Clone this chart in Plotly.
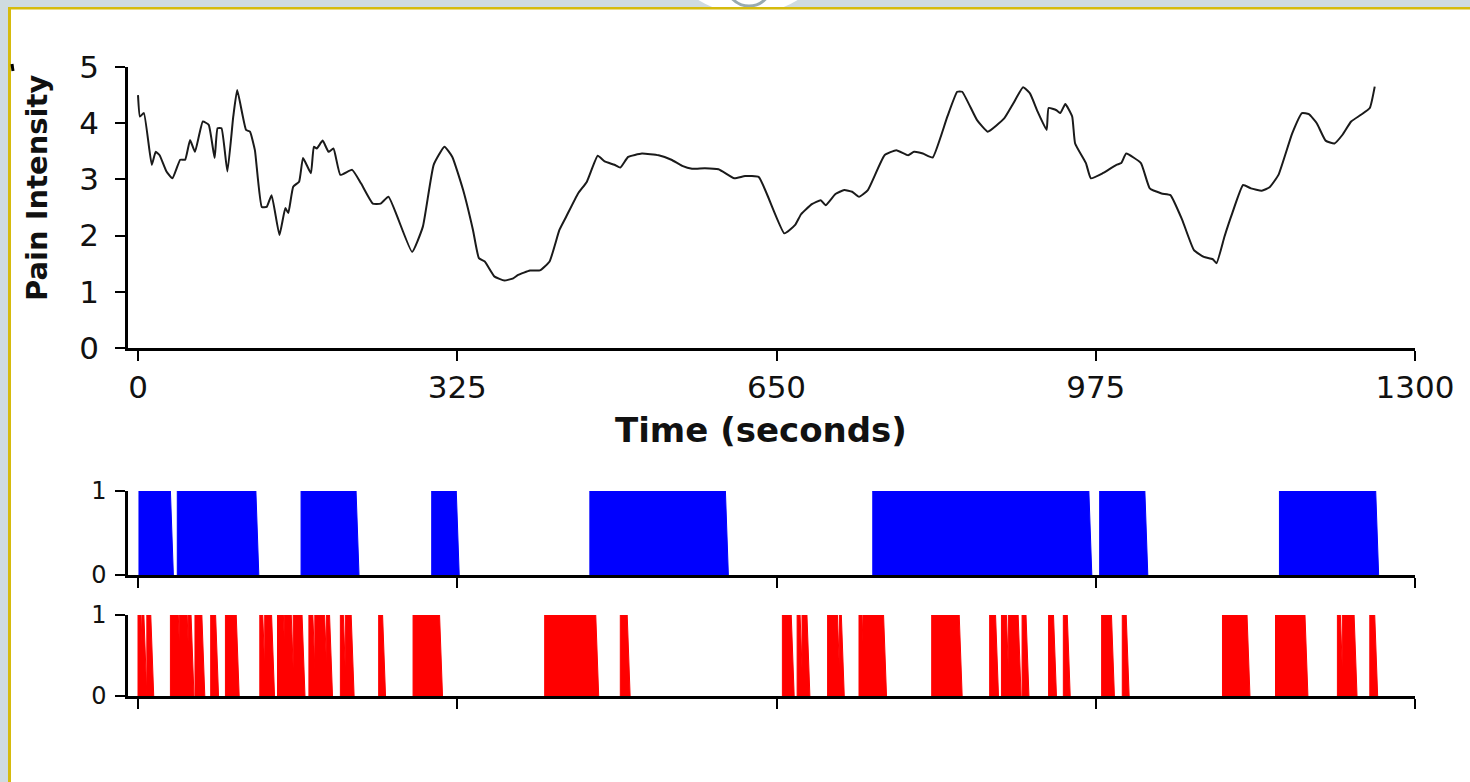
import plotly.graph_objects as go

W, H = 1470, 782

# ---------------- data ----------------
time_s = [0, 2, 6, 14, 18, 22, 29, 35, 43, 48, 53, 58, 66, 72, 78, 81, 85, 91, 97, 101,
          110, 114, 119, 126, 131, 136, 144, 150, 153, 158, 164, 168, 176, 179, 182, 188, 194, 199, 206, 218,
          227, 239, 247, 255, 279, 290, 301, 312, 320, 331, 341, 347, 353, 363,
          373, 382, 387, 399, 409, 419, 429, 436, 448, 457, 468, 475, 485, 491, 499, 513, 530, 543, 554, 564,
          577, 591, 607, 618, 632, 658, 669, 675, 686, 695, 700, 710, 719, 727, 734, 743, 760, 772, 784, 790,
          799, 809, 817,
          824, 834, 839, 854, 865, 882, 891, 901, 908, 916, 925, 927, 935, 939, 944, 951, 954, 965, 970, 982,
          996, 1001, 1006, 1021, 1030, 1042, 1051, 1063, 1075, 1085, 1094, 1098, 1106, 1114, 1125, 1133, 1144,
          1152, 1161, 1175, 1185, 1192, 1200, 1209, 1218, 1226, 1235, 1245, 1254, 1259]
pain = [4.50, 4.12, 4.18, 3.26, 3.49, 3.43, 3.14, 3.02, 3.35, 3.35, 3.70, 3.49, 4.03, 3.97, 3.38, 3.91, 3.91, 3.14, 4.12, 4.59,
        3.88, 3.85, 3.52, 2.51, 2.51, 2.72, 2.01, 2.49, 2.40, 2.87, 2.96, 3.38, 3.11, 3.58, 3.55, 3.69, 3.49, 3.55, 3.08, 3.17,
        2.93, 2.57, 2.57, 2.69, 1.71, 2.16, 3.26, 3.58, 3.40, 2.81, 2.10, 1.60, 1.54, 1.27,
        1.20, 1.24, 1.30, 1.38, 1.38, 1.54, 2.10, 2.34, 2.75, 2.96, 3.42, 3.32, 3.26, 3.21, 3.40, 3.46, 3.43, 3.35, 3.24, 3.19,
        3.20, 3.18, 3.02, 3.06, 3.04, 2.04, 2.19, 2.38, 2.56, 2.63, 2.54, 2.74, 2.81, 2.78, 2.69, 2.81, 3.43, 3.52, 3.43, 3.49,
        3.46, 3.39, 3.75,
        4.12, 4.56, 4.56, 4.06, 3.85, 4.09, 4.35, 4.64, 4.53, 4.20, 3.88, 4.27, 4.23, 4.18, 4.34, 4.12, 3.64, 3.29, 3.02, 3.11,
        3.26, 3.29, 3.46, 3.29, 2.84, 2.75, 2.72, 2.28, 1.74, 1.62, 1.58, 1.51, 1.98, 2.40, 2.90, 2.84, 2.80, 2.86, 3.08, 3.82,
        4.18, 4.16, 4.00, 3.69, 3.64, 3.79, 4.03, 4.15, 4.27, 4.65]

blue_on = [1, 40, 166, 299, 460, 748, 979, 1162]
blue_off = [33, 120, 222, 324, 598, 968, 1025, 1260]

red_on = [0, 4, 9, 33, 42, 51, 58, 74, 89, 124, 129, 142, 149, 158, 174, 180, 192, 206, 211, 245,
          280, 414, 491, 656, 671, 676, 702, 714, 734, 738, 808, 867, 879, 886, 900, 927, 942, 981, 1002, 1104,
          1158, 1221, 1226, 1254]
red_off = [3, 6, 13, 41, 50, 54, 65, 79, 100, 127, 136, 148, 156, 167, 178, 190, 195, 209, 217, 249,
           307, 466, 498, 665, 674, 681, 712, 716, 737, 759, 836, 873, 884, 896, 904, 932, 946, 991, 1006, 1129,
           1188, 1224, 1238, 1259]

x_ticks = [0, 325, 650, 975, 1300]
x_ticklabels = ["0", "325", "650", "975", "1300"]
pain_ticks = [0, 1, 2, 3, 4, 5]
bin_ticks = [0, 1]

FALL = 3  # seconds for the falling edge of each on-period


def on_polygons(on, off):
    xs, ys = [], []
    for s, e in zip(on, off):
        xs += [s, s, e, e + FALL, None]
        ys += [0, 1, 1, 0, None]
    return xs, ys


# ---------------- helpers (pixel -> paper) ----------------
def px(x):
    return x / W


def py(y):
    return 1 - y / H


fig = go.Figure()

fig.add_trace(go.Scatter(x=time_s, y=pain, mode="lines", line=dict(color="#1a1a1a", width=2),
                         line_shape="spline", line_smoothing=0.4,
                         xaxis="x", yaxis="y", showlegend=False, hoverinfo="skip"))

bx, by = on_polygons(blue_on, blue_off)
fig.add_trace(go.Scatter(x=bx, y=by, mode="lines", fill="toself", fillcolor="#0000ff",
                         line=dict(color="#0000ff", width=1), xaxis="x2", yaxis="y2",
                         showlegend=False, hoverinfo="skip"))

rx, ry = on_polygons(red_on, red_off)
fig.add_trace(go.Scatter(x=rx, y=ry, mode="lines", fill="toself", fillcolor="#ff0000",
                         line=dict(color="#ff0000", width=1), xaxis="x3", yaxis="y3",
                         showlegend=False, hoverinfo="skip"))

XL, XR = 128, 1415
xrange_ = [-10.18, 1300]
tick_font = dict(family="DejaVu Sans", size=31, color="#111")
small_font = dict(family="DejaVu Sans", size=24, color="#111")

common_x = dict(range=xrange_, domain=[px(XL), px(XR)], tickvals=x_ticks, ticktext=x_ticklabels,
                showline=True, linecolor="black", linewidth=2.5, ticks="outside", ticklen=10,
                tickwidth=2, tickcolor="black", showgrid=False, zeroline=False, fixedrange=True,
                automargin=False)
common_y = dict(showline=True, linecolor="black", linewidth=2.5, ticks="outside", ticklen=10,
                tickwidth=2, tickcolor="black", showgrid=False, zeroline=False, fixedrange=True,
                automargin=False)

fig.update_layout(
    width=W, height=H,
    margin=dict(l=0, r=0, t=0, b=0),
    paper_bgcolor="white", plot_bgcolor="rgba(0,0,0,0)",
    showlegend=False,
    xaxis=dict(**common_x, anchor="y", tickfont=tick_font, ticklabelstandoff=0),
    yaxis=dict(**common_y, range=[0, 5], domain=[py(348), py(67)], tickvals=pain_ticks,
               anchor="x", tickfont=tick_font, ticklabelstandoff=10),
    xaxis2=dict(**common_x, anchor="y2", showticklabels=False),
    yaxis2=dict(**common_y, range=[0, 1], domain=[py(575), py(491)], tickvals=bin_ticks,
                anchor="x2", tickfont=small_font, ticklabelstandoff=4),
    xaxis3=dict(**common_x, anchor="y3", showticklabels=False),
    yaxis3=dict(**common_y, range=[0, 1], domain=[py(696), py(615)], tickvals=bin_ticks,
                anchor="x3", tickfont=small_font, ticklabelstandoff=4),
)

fig.add_annotation(text="<b>Pain Intensity</b>", x=px(37), y=py(188), xref="paper", yref="paper",
                   textangle=-90, showarrow=False, xanchor="center", yanchor="middle",
                   font=dict(family="DejaVu Sans", size=29, color="#111"))
fig.add_annotation(text="<b>Time (seconds)</b>", x=px(761), y=py(430), xref="paper", yref="paper",
                   showarrow=False, xanchor="center", yanchor="middle",
                   font=dict(family="DejaVu Sans", size=34, color="#111"))

# page frame decorations
shapes = [
    dict(type="rect", xref="paper", yref="paper", x0=0, x1=1, y0=py(7), y1=1.02,
         fillcolor="#cfdbe0", line=dict(width=0), layer="below"),
    dict(type="rect", xref="paper", yref="paper", x0=-0.01, x1=px(8), y0=-0.02, y1=1.02,
         fillcolor="#cfdbe0", line=dict(width=0), layer="below"),
    dict(type="circle", xref="paper", yref="paper", x0=px(748 - 95), x1=px(748 + 95),
         y0=py(14), y1=py(-176), fillcolor="white", line=dict(width=0), layer="below"),
    dict(type="circle", xref="paper", yref="paper", x0=px(749 - 23), x1=px(749 + 23),
         y0=py(6), y1=py(-40), fillcolor="rgba(0,0,0,0)", line=dict(color="#98abb0", width=3),
         layer="below"),
    dict(type="rect", xref="paper", yref="paper", x0=px(8), x1=1.01, y0=py(9.5), y1=py(7),
         fillcolor="#d6bb0c", line=dict(width=0), layer="below"),
    dict(type="rect", xref="paper", yref="paper", x0=px(8), x1=px(11), y0=-0.02, y1=py(7),
         fillcolor="#d6bb0c", line=dict(width=0), layer="below"),
    dict(type="line", xref="paper", yref="paper", x0=px(12), x1=px(13), y0=py(64), y1=py(71),
         line=dict(color="black", width=3)),
]
fig.update_layout(shapes=shapes)

fig.write_html("out.html", config={"displayModeBar": False},
               post_script="document.body.style.margin='0';document.body.style.overflow='hidden';")
